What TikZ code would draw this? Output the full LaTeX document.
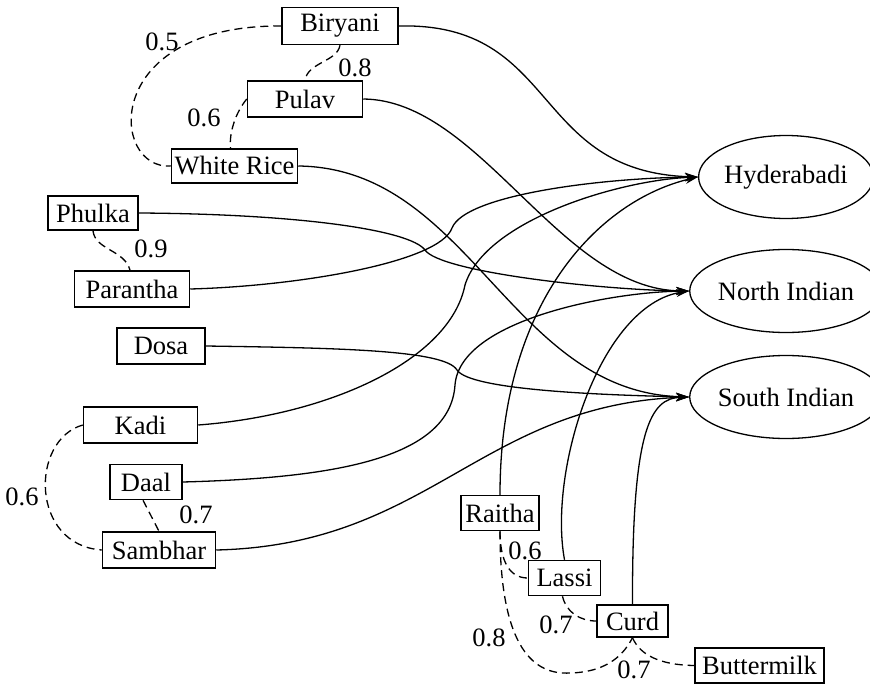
\documentclass[tikz,border=0pt]{standalone}
\usepackage{fontspec}
\setmainfont{Liberation Serif}
\usetikzlibrary{arrows.meta,shapes.geometric}
\begin{document}
\begin{tikzpicture}[x=1pt,y=-1pt,
  lbl/.style={font=\fontsize{26.5}{31}\selectfont},
  box/.style={lbl,draw,line width=1.5pt,inner sep=0pt,minimum height=35pt},
  cat/.style={lbl,draw,ellipse,line width=1.3pt,minimum width=160pt,minimum height=83pt,inner sep=0pt},
  rel/.style={line width=1.3pt,-{Stealth[length=13pt,width=8pt]}},
  sim/.style={line width=1.3pt,dash pattern=on 8pt off 5pt},
  wt/.style={lbl,inner sep=0pt}]
\useasboundingbox (0,0) rectangle (870,685);
% food nodes
\node[box,minimum width=116pt,minimum height=37pt] (biryani) at (340,26) {Biryani};
\node[box,minimum width=115pt,minimum height=36pt] (pulav) at (305,99) {Pulav};
\node[box,minimum width=126pt,minimum height=34pt] (wrice) at (234.5,166) {White Rice};
\node[box,minimum width=90pt,minimum height=34pt] (phulka) at (93,213) {Phulka};
\node[box,minimum width=115pt,minimum height=36pt] (parantha) at (132,289) {Parantha};
\node[box,minimum width=88pt,minimum height=36pt] (dosa) at (161,346) {Dosa};
\node[box,minimum width=114pt,minimum height=36pt] (kadi) at (140.5,425) {Kadi};
\node[box,minimum width=72pt,minimum height=35pt] (daal) at (146,482) {Daal};
\node[box,minimum width=113pt,minimum height=36pt] (sambhar) at (159,550) {Sambhar};
\node[box,minimum width=78pt,minimum height=35pt] (raitha) at (500,513) {Raitha};
\node[box,minimum width=72pt,minimum height=35pt] (lassi) at (564.5,578) {Lassi};
\node[box,minimum width=71pt,minimum height=32pt] (curd) at (632.5,621) {Curd};
\node[box,minimum width=129pt,minimum height=35pt] (buttermilk) at (759.5,665.5) {Buttermilk};
% categories
\node[cat] (hyd) at (786,177) {Hyderabadi};
\node[cat] (north) at (786,291) {North Indian};
\node[cat] (south) at (786,397) {South Indian};
% solid relations
\draw[rel] (biryani.east) .. controls (560,22) and (530,172) .. (hyd.west);
\draw[rel] (pulav.east) .. controls (480,100) and (560,290) .. (north.west);
\draw[rel] (wrice.east) .. controls (470,168) and (510,392) .. (south.west);
\draw[rel] (phulka.east) .. controls (300,214) and (410,230) .. (425,250) .. controls (440,272) and (600,290) .. (north.west);
\draw[rel] (parantha.east) .. controls (300,286) and (440,262) .. (452,228) .. controls (465,195) and (600,178) .. (hyd.west);
\draw[rel] (dosa.east) .. controls (340,348) and (445,350) .. (457,370) .. controls (470,390) and (600,395) .. (south.west);
\draw[rel] (kadi.east) .. controls (330,415) and (450,360) .. (465,285) .. controls (485,220) and (620,180) .. (hyd.west);
\draw[rel] (daal.east) .. controls (330,478) and (450,460) .. (455,385) .. controls (460,320) and (610,292) .. (north.west);
\draw[rel] (sambhar.east) .. controls (430,545) and (480,405) .. (south.west);
\draw[rel] (raitha.north) .. controls (500,300) and (600,200) .. (hyd.west);
\draw[rel] (lassi.north) .. controls (548,470) and (600,305) .. (north.west);
\draw[rel] (curd.north) .. controls (632,430) and (650,398) .. (south.west);
% similarity links
\draw[sim] (biryani.west) .. controls (100,25) and (110,170) .. (wrice.west);
\node[wt] (w1) at (162,42) {0.5};
\draw[sim] (biryani.south) .. controls (337,62) and (308,62) .. (pulav.north);
\node[wt] (w2) at (355,68) {0.8};
\draw[sim] (pulav.west) .. controls (236,112) and (229,132) .. ([xshift=-4pt]wrice.north);
\node[wt] (w3) at (204,118) {0.6};
\draw[sim] (phulka.south) .. controls (95,250) and (125,250) .. ([xshift=-2pt]parantha.north);
\node[wt] (w4) at (151,249) {0.9};
\draw[sim] (kadi.west) .. controls (30,440) and (30,545) .. (sambhar.west);
\node[wt] (w5) at (22,497) {0.6};
\draw[sim] ([xshift=-3pt]daal.south) -- (sambhar.north);
\node[wt] (w6) at (196,515) {0.7};
\draw[sim] (raitha.south) .. controls (500,562) and (510,578) .. (lassi.west);
\node[wt] (w7) at (525,551) {0.6};
\draw[sim] (raitha.south) .. controls (500,650) and (535,675) .. (570,673) .. controls (610,672) and (625,652) .. (curd.south);
\node[wt] (w8) at (489,638) {0.8};
\draw[sim] ([xshift=-2pt]lassi.south) .. controls (566,612) and (580,621) .. (curd.west);
\node[wt] (w9) at (556,625) {0.7};
\draw[sim] (curd.south) .. controls (640,655) and (660,665) .. (buttermilk.west);
\node[wt] (w10) at (634,670) {0.7};
\end{tikzpicture}
\end{document}
